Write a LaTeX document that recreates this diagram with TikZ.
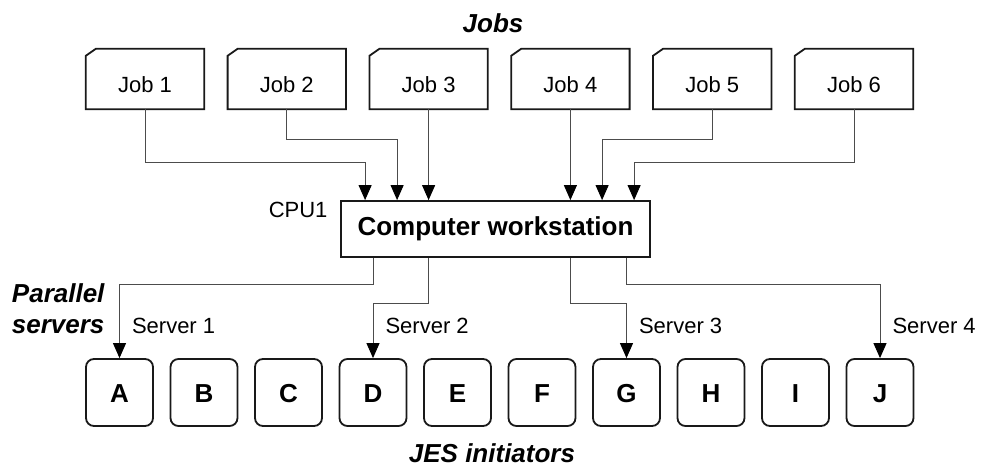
\documentclass[tikz,border=0pt]{standalone}
\usepackage{fontspec}
\setmainfont{Liberation Sans}
\usetikzlibrary{arrows.meta}

\begin{document}
\begin{tikzpicture}[x=1pt,y=-1pt,
  font=\fontsize{22}{26}\selectfont,
  boxline/.style={draw=black!90, line width=1.8pt},
  jobbox/.style={rectangle, minimum width=118pt, minimum height=60pt,
                 inner sep=0pt, text height=26pt, text depth=0pt},
  cpubox/.style={boxline, rectangle, minimum width=309pt, minimum height=56pt,
                 inner sep=0pt, font=\bfseries\fontsize{26}{30}\selectfont},
  initbox/.style={boxline, rectangle, rounded corners=8pt, minimum size=67pt,
                  inner sep=0pt, text height=19pt, text depth=0pt,
                  font=\bfseries\fontsize{26}{30}\selectfont},
  heading/.style={font=\bfseries\itshape\fontsize{26}{31}\selectfont},
  conn/.style={draw=black!70, line width=1pt},
  arr/.style={conn, -{Triangle[length=15pt,width=13pt,color=black]}}
]
\useasboundingbox (0,0) rectangle (985,466);

% headings
\node[heading, anchor=base] (jobs) at (493,32) {Jobs};
\node[heading, anchor=base] (jes) at (492,462) {JES initiators};
\node[heading, anchor=east, align=right] (par) at (108,309) {Parallel\\servers};

% job cards with a clipped top-left corner
\foreach \i in {1,...,6} {
  \node[jobbox] (j\i) at ({145+141.8*(\i-1)},79) {Job \i};
  \draw[boxline, line join=miter] ([xshift=10pt]j\i.north west) -- (j\i.north east)
    -- (j\i.south east) -- (j\i.south west) -- ([yshift=-7pt]j\i.north west) -- cycle;
}

% central workstation
\node[cpubox] (cpu) at (495.5,229) {Computer workstation};
\node[anchor=base east] (cpulabel) at (331,217) {CPU1};

% JES initiators
\foreach \l [count=\k from 0] in {A,B,C,D,E,F,G,H,I,J}
  \node[initbox] (\l) at ({119.5+84.5*\k},392.5) {\l};

% routing levels
\coordinate (lo) at (0,162);
\coordinate (hi) at (0,139);
\coordinate (s1) at (0,284);
\coordinate (s2) at (0,303);

% entry points on the workstation
\coordinate (in1) at ([xshift=25pt]cpu.north west);
\coordinate (in2) at ([xshift=57pt]cpu.north west);
\coordinate (in3) at (j3.south |- cpu.north);
\coordinate (in4) at (j4.south |- cpu.north);
\coordinate (in5) at ([xshift=262pt]cpu.north west);
\coordinate (in6) at ([xshift=294pt]cpu.north west);

% exit points from the workstation
\coordinate (o1) at ([xshift=33pt]cpu.south west);
\coordinate (o2) at ([xshift=88pt]cpu.south west);
\coordinate (o3) at ([xshift=230pt]cpu.south west);
\coordinate (o4) at ([xshift=286pt]cpu.south west);

% jobs into the workstation
\draw[arr] (j1.south) |- (in1 |- lo) -- (in1);
\draw[arr] (j2.south) |- (in2 |- hi) -- (in2);
\draw[arr] (j3.south) -- (in3);
\draw[arr] (j4.south) -- (in4);
\draw[arr] (j5.south) |- (in5 |- hi) -- (in5);
\draw[arr] (j6.south) |- (in6 |- lo) -- (in6);

% parallel servers
\draw[arr] (o1) |- (A.north |- s1) -- (A.north);
\draw[arr] (o2) |- (D.north |- s2) -- (D.north);
\draw[arr] (o3) |- (G.north |- s2) -- (G.north);
\draw[arr] (o4) |- (J.north |- s1) -- (J.north);

\node[anchor=base west] (sv1) at ([xshift=9pt]A.north |- 0,333) {Server 1};
\node[anchor=base west] (sv2) at ([xshift=9pt]D.north |- 0,333) {Server 2};
\node[anchor=base west] (sv3) at ([xshift=9pt]G.north |- 0,333) {Server 3};
\node[anchor=base west] (sv4) at ([xshift=9pt]J.north |- 0,333) {Server 4};
\end{tikzpicture}
\end{document}
